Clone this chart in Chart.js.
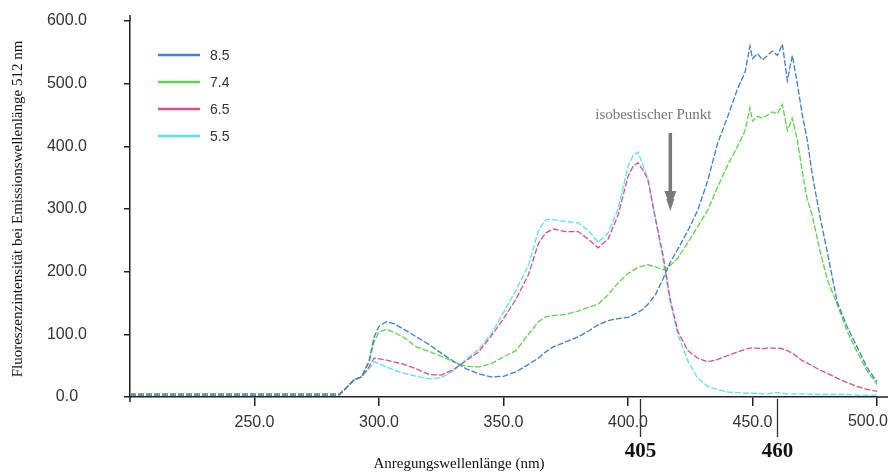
<!DOCTYPE html>
<html><head><meta charset="utf-8">
<script src="https://cdn.jsdelivr.net/npm/chart.js@4.4.1/dist/chart.umd.min.js"></script>
<style>html,body{margin:0;padding:0;background:#fff;}canvas{display:block;}</style>
</head><body>
<canvas id="c" width="888" height="472"></canvas>
<script>
// Excitation wavelengths (nm)
const wavelengths = [200,284,287,290,293,296,298,300,303,306,310,315,320,325,330,335,340,345,350,355,360,364,367,370,375,380,384,388,392,396,400,402,404,406,408,411,414,417,420,424,428,432,436,440,444,447,449,450,452,454,456,458,460,462,464,466,468,470,472,474,477,480,484,488,492,496,500];
// Fluorescence intensity at emission 512 nm, per pH
const ph85 = [3,3,15,28,32, 58,95,113,120,117, 108,96,84,70,57, 45,37,32,33,40, 52,62,72,80,88, 96,105,115,122,125, 127,131,135,140,148, 163,188,215,236,265, 298,345,405,447,492, 518,560,540,548,538, 545,552,545,563,505, 545,500,450,410,355, 290,232,152,112,80, 47,24];
const ph74 = [4,4,15,27,32, 55,88,104,108,103, 95,80,73,65,56, 49,48,53,64,74, 100,120,128,130,132, 137,143,148,163,182, 197,202,207,209,211, 208,203,210,222,246, 272,298,335,370,400, 425,462,440,448,445, 450,455,452,467,425, 445,410,360,315,290, 235,188,148,105,72, 42,20];
const ph65 = [5,5,15,27,32, 48,62,61,59,56, 52,45,36,35,44, 58,72,97,125,156, 195,245,262,268,264, 264,252,238,252,290, 352,368,374,362,347, 285,228,155,105,74, 62,56,60,66,72, 76,78,78,78,77, 78,78,78,77,74, 70,64,58,54,50, 43,38,30,23,17, 12,9];
const ph55 = [4,4,15,27,32, 45,56,53,48,43, 38,33,29,31,42, 60,76,100,135,170, 210,265,283,283,280, 278,266,247,262,300, 368,385,391,370,347, 285,220,150,100,58, 30,17,12,8,7, 6,6,6,6,5, 5,6,7,6,5, 5,5,5,5,4, 4,4,4,4,3, 3,3];
const seriesLabels = ['8.5','7.4','6.5','5.5'];
const seriesValues = [ph85, ph74, ph65, ph55];
const seriesColors = ['#3f7fcc','#5cd44a','#d9508a','#5ee0ea'];
const yTickValues = [0,100,200,300,400,500,600];
const xTickValues = [250,300,350,400,450,500];
const markedWavelengths = ['405','460'];
const isosbesticWavelength = 417;

const axisColor = '#222';
const tickFont = {family:'Liberation Sans', size:16};
const xMax = 500;

const annotations = {
  id:'annotations',
  afterDraw(chart){
    const ctx = chart.ctx, ca = chart.chartArea;
    const xs = chart.scales.x;
    ctx.save();
    // axis line extensions
    ctx.strokeStyle = axisColor; ctx.lineWidth = 1.5;
    ctx.beginPath(); ctx.moveTo(ca.left, ca.top-6); ctx.lineTo(ca.left, ca.top);
    ctx.moveTo(ca.left, ca.bottom); ctx.lineTo(ca.left, ca.bottom+5);
    ctx.moveTo(ca.right, ca.bottom); ctx.lineTo(chart.width, ca.bottom); ctx.stroke();
    // last x tick label kept inside the canvas
    ctx.fillStyle = '#333'; ctx.font = '16px "Liberation Sans"';
    ctx.textAlign = 'right'; ctx.textBaseline = 'middle';
    ctx.fillText(xMax.toFixed(1), chart.width, 422);
    // legend
    chart.data.datasets.forEach((ds,i)=>{
      const y = 55 + i*27;
      ctx.strokeStyle = ds.borderColor; ctx.lineWidth = 2.6; ctx.setLineDash([]);
      ctx.beginPath(); ctx.moveTo(158,y); ctx.lineTo(200,y); ctx.stroke();
      ctx.fillStyle = '#333'; ctx.font = '14px "Liberation Sans"';
      ctx.textAlign='left'; ctx.textBaseline='middle';
      ctx.fillText(ds.label, 210, y+1);
    });
    // marked wavelengths below axis
    markedWavelengths.forEach(w=>{
      const x = Math.round(xs.getPixelForValue(Number(w)))+0.5;
      ctx.strokeStyle = '#333'; ctx.lineWidth = 1.3;
      ctx.beginPath(); ctx.moveTo(x, ca.bottom+2); ctx.lineTo(x, 437); ctx.stroke();
      ctx.fillStyle = '#111'; ctx.font = 'bold 21px "Liberation Serif"';
      ctx.textAlign='center'; ctx.textBaseline='middle';
      ctx.fillText(w, x, 452);
    });
    // isosbestic arrow
    const ax = xs.getPixelForValue(isosbesticWavelength);
    ctx.fillStyle = '#777'; ctx.font = '15px "Liberation Serif"';
    ctx.textAlign='center'; ctx.textBaseline='middle';
    ctx.fillText('isobestischer Punkt', ax-17, 115);
    ctx.strokeStyle = '#7a7a7a'; ctx.lineWidth = 3.5;
    ctx.beginPath(); ctx.moveTo(ax,133); ctx.lineTo(ax,194); ctx.stroke();
    ctx.fillStyle = '#7a7a7a';
    ctx.beginPath(); ctx.moveTo(ax-6,191); ctx.lineTo(ax+6,191); ctx.lineTo(ax+3,199); ctx.lineTo(ax+4,199); ctx.lineTo(ax,211); ctx.lineTo(ax-4,199); ctx.lineTo(ax-3,199); ctx.closePath(); ctx.fill();
    // axis titles
    ctx.fillStyle = '#111'; ctx.font = '15px "Liberation Serif"';
    ctx.textAlign='center'; ctx.textBaseline='middle';
    ctx.fillText('Anregungswellenlänge (nm)', 459, 464);
    ctx.translate(18, (ca.top+ca.bottom)/2);
    ctx.rotate(-Math.PI/2);
    ctx.fillText('Fluoreszenzintensität bei Emissionswellenlänge 512 nm', 0, 0);
    ctx.restore();
  }
};

new Chart(document.getElementById('c'), {
  type:'line',
  data:{
    datasets: seriesLabels.map((lab,i)=>({
      label: lab,
      data: wavelengths.map((w,j)=>({x:w, y:seriesValues[i][j]})),
      borderColor: seriesColors[i],
      borderWidth: 1.3,
      borderDash: [6,2],
      pointRadius: 0,
      tension: 0,
      fill: false
    }))
  },
  options:{
    responsive:false,
    animation:false,
    devicePixelRatio:1,
    layout:{padding:{left:30,right:11,top:21,bottom:0}},
    plugins:{legend:{display:false}, tooltip:{enabled:false}},
    scales:{
      x:{
        type:'linear', min:200, max:xMax,
        afterBuildTicks(s){ s.ticks = xTickValues.map(v=>({value:v})); },
        afterFit(s){ s.height = 75; s.paddingLeft = 0; s.paddingRight = 0; },
        ticks:{callback:v=>Number(v).toFixed(1), color:c=>(c.tick && c.tick.value===xMax)?'rgba(0,0,0,0)':'#333', font:tickFont, padding:7, maxRotation:0, autoSkip:false},
        grid:{drawOnChartArea:false, drawTicks:true, tickLength:9, color:axisColor, lineWidth:1.5},
        border:{display:true, color:axisColor, width:1.5}
      },
      y:{
        min:0, max:600,
        afterBuildTicks(s){ s.ticks = yTickValues.map(v=>({value:v})); },
        afterFit(s){ s.width = 100; s.paddingTop = 0; s.paddingBottom = 0; },
        ticks:{callback:v=>Number(v).toFixed(1), color:'#333', font:tickFont, padding:37, crossAlign:'center'},
        grid:{drawOnChartArea:false, drawTicks:true, tickLength:6, color:axisColor, lineWidth:1.5},
        border:{display:true, color:axisColor, width:1.5}
      }
    }
  },
  plugins:[annotations]
});
</script>
</body></html>
